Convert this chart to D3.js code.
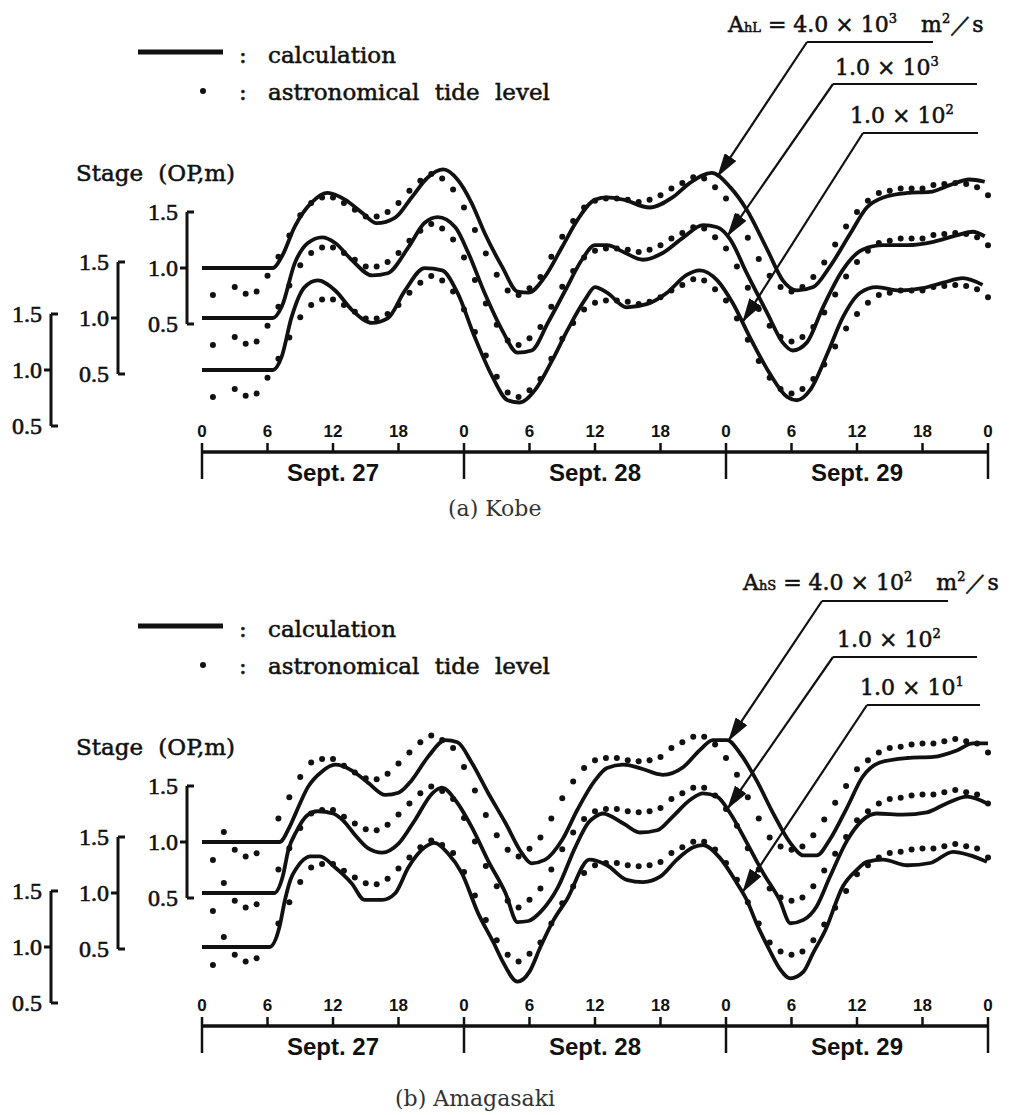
<!DOCTYPE html>
<html>
<head>
<meta charset="utf-8">
<script src="https://cdn.jsdelivr.net/npm/d3@7/dist/d3.min.js"></script>
<style>
  body { margin: 0; background: #fff; }
  svg text { font-family: "DejaVu Serif", serif; fill: #111; }
  .heavy { stroke: #111; stroke-width: 0.55px; }
  .tick-y { font-family: "Liberation Serif", serif; font-size: 24px; stroke: #111; stroke-width: 0.6px; }
  .tick-x { font-family: "Liberation Sans Narrow", "Liberation Sans", sans-serif; font-weight: bold; font-size: 17px; }
  .day { font-family: "Liberation Sans Narrow", "Liberation Sans", sans-serif; font-weight: bold; font-size: 24px; }
  .caption { fill: #333; }
</style>
</head>
<body>
<svg id="chart" width="1021" height="1115"></svg>
<script>
// astronomical tide level, one value per hour 0..72 (null = no dot)
var kobeTide = [null,0.76,null,0.83,0.77,0.79,0.93,1.10,1.29,1.47,1.58,1.63,
  1.63,1.58,1.52,1.46,1.46,1.50,1.58,1.69,1.78,1.84,1.80,1.70,
  1.54,1.34,1.13,0.94,0.80,0.76,0.82,0.92,1.10,1.28,1.42,1.54,
  1.60,1.62,1.62,1.61,1.59,1.61,1.65,1.71,1.76,1.81,1.80,1.72,
  1.62,1.46,1.27,1.08,0.93,0.83,0.79,0.83,0.92,1.05,1.21,1.37,
  1.50,1.60,1.67,1.69,1.71,1.71,1.71,1.74,1.75,1.76,1.75,1.72,
  1.65];

var amaTide = [null,0.84,1.09,0.93,0.87,0.90,null,1.21,1.40,1.58,1.71,1.74,
  1.74,1.68,1.62,1.57,1.56,1.61,1.70,1.80,1.89,1.95,1.91,1.84,
  1.67,1.46,1.24,1.06,0.93,0.87,0.94,1.04,1.21,1.39,1.54,1.66,
  1.73,1.75,1.75,1.73,1.72,1.73,1.76,1.84,1.89,1.94,1.94,1.87,
  1.75,1.60,1.40,1.21,1.04,0.96,0.93,0.96,1.06,1.20,1.35,1.50,
  1.65,1.73,1.80,1.84,1.85,1.87,1.88,1.88,1.90,1.92,1.90,1.88,
  1.80];

// calculation, [hour, stage m]
var kobeCalc4e3 = [[0,1.00],[6.5,1.00],[7.3,1.10],[8.5,1.37],[10.1,1.59],[11.5,1.67],[13.1,1.61],[14.7,1.49],[16.0,1.40],[17.7,1.45],
  [19.2,1.63],[20.7,1.81],[22.1,1.88],[23.4,1.79],[24.7,1.58],[25.9,1.31],[27.5,1.01],[28.9,0.79],[29.9,0.78],[31.4,0.92],
  [33.0,1.19],[34.4,1.43],[36.0,1.61],[37.1,1.63],[38.6,1.61],[41.0,1.54],[43.1,1.63],[44.7,1.76],[46.7,1.85],[48.4,1.72],
  [49.9,1.52],[51.8,1.16],[53.2,0.89],[54.5,0.80],[56.0,0.83],[57.5,1.01],[59.4,1.31],[60.9,1.54],[62.4,1.63],[64.6,1.67],
  [66.7,1.68],[68.5,1.74],[70.3,1.79],[71.7,1.77]];
var kobeCalc1e3 = [[0,1.00],[6.5,1.00],[7.3,1.10],[8.5,1.49],[9.7,1.67],[11.0,1.72],[12.2,1.67],[13.7,1.52],[15.6,1.38],[17.0,1.40],
  [18.9,1.63],[20.4,1.85],[21.6,1.90],[23.2,1.81],[24.4,1.58],[25.9,1.22],[27.5,0.89],[28.9,0.69],[30.2,0.71],[31.7,0.96],
  [33.3,1.25],[34.8,1.52],[36.0,1.65],[37.1,1.65],[38.6,1.59],[40.4,1.52],[42.2,1.58],[44.1,1.72],[45.9,1.83],[47.2,1.81],
  [48.4,1.70],[49.9,1.40],[51.8,1.04],[53.2,0.78],[54.1,0.71],[55.4,0.78],[56.9,1.10],[58.7,1.43],[60.5,1.61],[62.4,1.65],
  [64.6,1.65],[67.0,1.68],[69.2,1.74],[70.6,1.77],[71.7,1.73]];
var kobeCalc1e2 = [[0,1.00],[6.5,1.00],[7.3,1.12],[8.2,1.47],[9.4,1.74],[10.6,1.80],[12.2,1.71],[13.7,1.54],[15.6,1.42],[17.0,1.46],
  [18.6,1.71],[20.4,1.91],[22.0,1.89],[23.4,1.69],[25.0,1.29],[26.6,0.94],[28.0,0.73],[29.1,0.71],[30.5,0.82],[32.1,1.09],
  [33.5,1.36],[35.1,1.63],[36.0,1.74],[37.1,1.69],[38.9,1.56],[40.8,1.59],[42.6,1.69],[44.4,1.85],[45.6,1.89],[47.2,1.80],
  [48.6,1.60],[50.2,1.29],[52.0,0.97],[53.6,0.76],[54.5,0.73],[55.7,0.82],[57.3,1.15],[58.7,1.47],[60.3,1.69],[61.8,1.74],
  [63.9,1.71],[66.0,1.73],[67.9,1.78],[69.7,1.82],[71.5,1.76]];

var amaCalc4e2 = [[0,1.00],[7.1,1.00],[8.0,1.13],[8.6,1.26],[9.7,1.49],[11.0,1.63],[12.2,1.69],[13.7,1.64],[15.2,1.53],[16.8,1.42],
  [18.0,1.44],[19.2,1.55],[20.7,1.76],[22.3,1.91],[23.4,1.89],[24.7,1.71],[26.2,1.44],[27.8,1.17],[29.3,0.90],[30.2,0.81],
  [31.4,0.84],[33.0,1.02],[34.4,1.29],[36.0,1.55],[37.1,1.66],[38.6,1.69],[40.1,1.66],[42.2,1.60],[44.1,1.67],[45.6,1.82],
  [46.8,1.91],[48.1,1.91],[49.3,1.79],[50.8,1.55],[52.3,1.26],[53.9,0.99],[55.1,0.88],[56.3,0.88],[57.5,1.02],[59.1,1.31],
  [60.5,1.58],[62.1,1.71],[64.6,1.75],[67.0,1.76],[69.2,1.82],[70.6,1.88],[72.0,1.88]];
var amaCalc1e2 = [[0,1.00],[6.6,1.00],[7.4,1.15],[7.9,1.38],[8.7,1.56],[9.6,1.69],[10.6,1.73],[12.0,1.71],[13.0,1.64],[14.0,1.52],
  [15.2,1.40],[16.5,1.36],[18.0,1.44],[19.5,1.65],[21.1,1.89],[22.0,1.94],[23.2,1.83],[24.7,1.59],[26.2,1.29],[27.8,1.00],
  [28.9,0.74],[29.9,0.75],[31.1,0.84],[32.6,1.05],[34.2,1.41],[35.4,1.63],[36.0,1.68],[36.7,1.71],[38.6,1.62],[40.1,1.54],
  [41.7,1.56],[43.1,1.68],[44.7,1.83],[45.9,1.89],[47.2,1.86],[48.4,1.71],[49.9,1.45],[51.4,1.18],[52.9,0.94],[53.9,0.73],
  [55.1,0.76],[56.3,0.88],[57.5,1.14],[59.1,1.47],[60.5,1.65],[61.8,1.71],[64.2,1.70],[66.4,1.72],[68.2,1.80],[70.1,1.86],
  [71.9,1.80]];
var amaCalc1e1 = [[0,1.00],[6.2,1.00],[7.1,1.18],[7.6,1.42],[8.1,1.60],[8.7,1.71],[9.3,1.78],[9.9,1.81],[10.8,1.81],[12.2,1.71],
  [13.7,1.57],[14.9,1.42],[16.5,1.42],[17.7,1.48],[18.9,1.71],[20.4,1.89],[21.3,1.93],[22.5,1.84],[23.8,1.66],[25.3,1.30],
  [26.7,1.04],[27.6,0.86],[28.9,0.69],[30.0,0.78],[31.0,1.00],[32.2,1.24],[33.4,1.42],[35.5,1.78],[37.1,1.73],[38.9,1.60],
  [40.4,1.58],[42.0,1.63],[43.5,1.78],[45.0,1.89],[45.9,1.91],[47.4,1.80],[49.0,1.57],[49.9,1.42],[50.8,1.21],[52.0,0.97],
  [52.9,0.81],[53.9,0.72],[55.1,0.78],[56.0,0.95],[57.1,1.15],[58.7,1.54],[60.0,1.69],[60.9,1.76],[62.4,1.78],[64.6,1.73],
  [66.7,1.75],[68.8,1.85],[70.3,1.82],[71.9,1.76]];

// diffusion coefficient labels [mantissa, exponent]
var kobeCoef = [["4.0","3"],["1.0","3"],["1.0","2"]];
var amaCoef = [["4.0","2"],["1.0","2"],["1.0","1"]];
// hour on each curve the arrows point at
var kobeArrowHour = [47.2, 48.1, 49.5];
var amaArrowHour = [48.2, 48.1, 49.5];

var hourTicks = d3.range(0, 73, 6);
var dayLabels = ["Sept. 27", "Sept. 28", "Sept. 29"];
var stageTicks = [1.5, 1.0, 0.5];

var panels = [
  {top: 0, tide: kobeTide, calc: [kobeCalc4e3, kobeCalc1e3, kobeCalc1e2], coef: kobeCoef, sub: "hL",
   arrowHour: kobeArrowHour, bases: [268, 318, 370], caption: "(a) Kobe", captionX: 448, captionY: 516,
   ann: [{x1: 807, x2: 933, y: 42, tx: 728, ty: 32}, {x1: 833, x2: 977, y: 84, tx: 835, ty: 75}, {x1: 863, x2: 978, y: 133, tx: 850, ty: 123}]},
  {top: 574, tide: amaTide, calc: [amaCalc4e2, amaCalc1e2, amaCalc1e1], coef: amaCoef, sub: "hS",
   arrowHour: amaArrowHour, bases: [268, 319, 373], caption: "(b) Amagasaki", captionX: 395, captionY: 532,
   ann: [{x1: 822, x2: 948, y: 27, tx: 743, ty: 16}, {x1: 833, x2: 977, y: 83, tx: 837, ty: 73}, {x1: 867, x2: 980, y: 131, tx: 860, ty: 121}]}
];

var PX_PER_M = 112;
var axisXs = [187, 118, 51];
var xAxisY = 452;

var x = d3.scaleLinear().domain([0, 72]).range([202, 988]);

var svg = d3.select("#chart");
svg.append("rect").attr("width", 1021).attr("height", 1115).attr("fill", "#fff");

svg.append("defs").append("marker")
  .attr("id", "arrow")
  .attr("viewBox", "0 0 24 14")
  .attr("refX", 24).attr("refY", 7)
  .attr("markerWidth", 24).attr("markerHeight", 14)
  .attr("markerUnits", "userSpaceOnUse")
  .attr("orient", "auto")
  .append("path").attr("d", "M0,0L24,7L0,14Z").attr("fill", "#111");

function valueAt(series, h) {
  var i = d3.bisector(function(d) { return d[0]; }).left(series, h);
  if (i <= 0) return series[0][1];
  if (i >= series.length) return series[series.length - 1][1];
  var a = series[i - 1], b = series[i];
  return a[1] + (b[1] - a[1]) * (h - a[0]) / (b[0] - a[0]);
}

panels.forEach(function(p) {

  var g = svg.append("g").attr("transform", "translate(0," + p.top + ")");

  var ys = p.bases.map(function(b) {
    return d3.scaleLinear().domain([0.5, 1.5]).range([b + PX_PER_M / 2, b - PX_PER_M / 2]);
  });

  // legend
  g.append("line").attr("x1", 138).attr("x2", 223).attr("y1", 52).attr("y2", 52)
    .attr("stroke", "#111").attr("stroke-width", 5);
  g.append("text").attr("class", "heavy").attr("x", 239).attr("y", 63).attr("font-size", 23).text(":");
  g.append("text").attr("class", "heavy").attr("x", 268).attr("y", 63).attr("font-size", 23).text("calculation");
  g.append("circle").attr("cx", 203).attr("cy", 91).attr("r", 3).attr("fill", "#111");
  g.append("text").attr("class", "heavy").attr("x", 239).attr("y", 100).attr("font-size", 23).text(":");
  g.append("text").attr("class", "heavy").attr("x", 268).attr("y", 100).attr("font-size", 23).attr("word-spacing", 8)
    .text("astronomical tide level");

  g.append("text").attr("class", "heavy").attr("x", 76).attr("y", 181).attr("font-size", 23).attr("word-spacing", 8)
    .text("Stage (OP,m)");

  // stage axes, one per curve
  ys.forEach(function(y, i) {
    var ax = g.append("g").attr("class", "yaxis");
    ax.append("line").attr("x1", axisXs[i]).attr("x2", axisXs[i])
      .attr("y1", y(1.5)).attr("y2", y(0.5))
      .attr("stroke", "#111").attr("stroke-width", 3);
    ax.selectAll("line.tk").data(stageTicks).enter().append("line")
      .attr("class", "tk")
      .attr("x1", axisXs[i])
      .attr("x2", function(d) { return d === 1.0 ? axisXs[i] - 7 : axisXs[i] + 7; })
      .attr("y1", function(d) { return y(d); })
      .attr("y2", function(d) { return y(d); })
      .attr("stroke", "#111").attr("stroke-width", 3);
    ax.selectAll("text").data(stageTicks).enter().append("text")
      .attr("class", "tick-y")
      .attr("x", axisXs[i] - 9)
      .attr("y", function(d) { return y(d) + 8; })
      .attr("text-anchor", "end")
      .text(function(d) { return d.toFixed(1); });
  });

  // tide dots
  ys.forEach(function(y) {
    g.append("g").selectAll("circle")
      .data(p.tide.map(function(v, h) { return [h, v]; }).filter(function(d) { return d[1] !== null; }))
      .enter().append("circle")
      .attr("cx", function(d) { return x(d[0]); })
      .attr("cy", function(d) { return y(d[1]); })
      .attr("r", 3)
      .attr("fill", "#111");
  });

  // calculation curves
  p.calc.forEach(function(series, i) {
    var line = d3.line()
      .x(function(d) { return x(d[0]); })
      .y(function(d) { return ys[i](d[1]); })
      .curve(d3.curveMonotoneX);
    g.append("path").datum(series)
      .attr("d", line)
      .attr("fill", "none")
      .attr("stroke", "#111")
      .attr("stroke-width", 3.8)
      .attr("stroke-linejoin", "round");
  });

  // coefficient labels with leaders and arrows
  p.ann.forEach(function(a, i) {
    var h = p.arrowHour[i];
    g.append("line").attr("x1", a.x1).attr("x2", a.x2).attr("y1", a.y).attr("y2", a.y)
      .attr("stroke", "#111").attr("stroke-width", 2.2);
    g.append("line").attr("x1", a.x1).attr("y1", a.y)
      .attr("x2", x(h)).attr("y2", ys[i](valueAt(p.calc[i], h)))
      .attr("stroke", "#111").attr("stroke-width", 2.2)
      .attr("marker-end", "url(#arrow)");

    var t = g.append("text").attr("class", "heavy").attr("x", a.tx).attr("y", a.ty).attr("font-size", 22);
    if (i === 0) {
      t.append("tspan").text("A");
      t.append("tspan").attr("font-size", 13).text(p.sub);
      t.append("tspan").text(" = " + p.coef[i][0] + " × 10");
    } else {
      t.append("tspan").text(p.coef[i][0] + " × 10");
    }
    t.append("tspan").attr("font-size", 13).attr("dy", -9).text(p.coef[i][1]);
    if (i === 0) {
      t.append("tspan").attr("dy", 9).attr("dx", 24).text("m");
      t.append("tspan").attr("font-size", 13).attr("dy", -9).text("2");
      t.append("tspan").attr("dy", 9).text("／s");
    }
  });

  // time axis
  var xa = g.append("g").attr("class", "xaxis");
  xa.append("line").attr("x1", x(0)).attr("x2", x(72)).attr("y1", xAxisY).attr("y2", xAxisY)
    .attr("stroke", "#111").attr("stroke-width", 3.5);
  xa.selectAll("line.tk").data(hourTicks).enter().append("line")
    .attr("class", "tk")
    .attr("x1", function(d) { return x(d); })
    .attr("x2", function(d) { return x(d); })
    .attr("y1", xAxisY - 9)
    .attr("y2", function(d) { return d % 24 === 0 ? xAxisY + 27 : xAxisY; })
    .attr("stroke", "#111").attr("stroke-width", 2.5);
  xa.selectAll("text.tick-x").data(hourTicks).enter().append("text")
    .attr("class", "tick-x")
    .attr("x", function(d) { return x(d); })
    .attr("y", xAxisY - 15)
    .attr("text-anchor", "middle")
    .text(function(d) { return d % 24; });
  xa.selectAll("text.day").data(dayLabels).enter().append("text")
    .attr("class", "day")
    .attr("x", function(d, i) { return x(i * 24 + 12); })
    .attr("y", xAxisY + 29)
    .attr("text-anchor", "middle")
    .text(function(d) { return d; });

  g.append("text").attr("class", "caption").attr("x", p.captionX).attr("y", p.captionY)
    .attr("font-size", 22).text(p.caption);
});
</script>
</body>
</html>
